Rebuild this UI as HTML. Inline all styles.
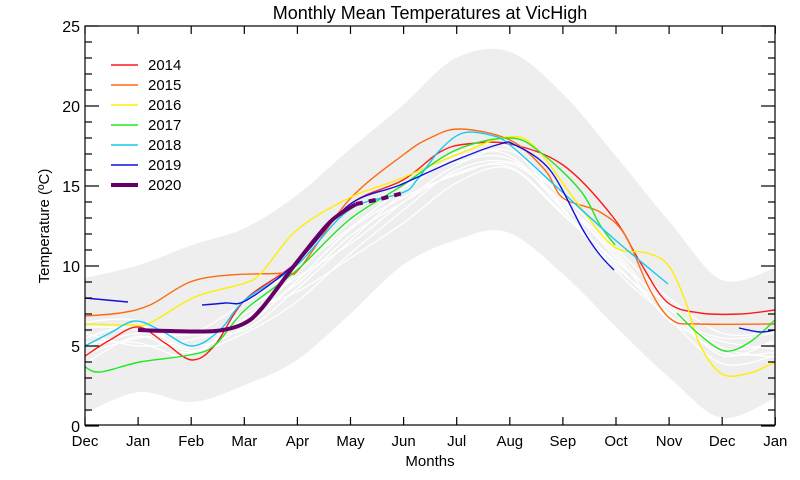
<!DOCTYPE html>
<html><head><meta charset="utf-8"><style>
html,body{margin:0;padding:0;background:#fff;}
svg{display:block;font-family:"Liberation Sans",sans-serif;}
</style></head><body>
<svg id="s" width="800" height="480" viewBox="0 0 800 480">
<rect width="800" height="480" fill="#fff"/>
<g id="band"></g>
<g id="white"></g>
<g id="series"></g>
<g id="axes" stroke="#000" stroke-width="1.2" fill="none"></g>
<text x="430" y="19" font-size="18" text-anchor="middle">Monthly Mean Temperatures at VicHigh</text>
<text x="430" y="466" font-size="15" text-anchor="middle">Months</text>
<text transform="translate(49,226) rotate(-90)" font-size="15" text-anchor="middle">Temperature (ºC)</text>
<g id="labels" font-size="16"></g>
<g id="legend" font-size="15"></g>
</svg>
<script>
const NS="http://www.w3.org/2000/svg";
function el(p,t,a,txt){const e=document.createElementNS(NS,t);for(const k in a)e.setAttribute(k,a[k]);if(txt!==undefined)e.textContent=String(txt);document.getElementById(p).appendChild(e);return e;}
function f(v){return (+v).toFixed(1);}
function cr(pts){pts=pts.map(p=>[+p[0],+p[1]]);let d="M"+f(pts[0][0])+","+f(pts[0][1]);for(let i=0;i<pts.length-1;i++){const p0=pts[Math.max(0,i-1)],p1=pts[i],p2=pts[i+1],p3=pts[Math.min(pts.length-1,i+2)];
const c1=[p1[0]+(p2[0]-p0[0])/6,p1[1]+(p2[1]-p0[1])/6],c2=[p2[0]-(p3[0]-p1[0])/6,p2[1]-(p3[1]-p1[1])/6];
d+=" C"+f(c1[0])+","+f(c1[1])+" "+f(c2[0])+","+f(c2[1])+" "+f(p2[0])+","+f(p2[1]);}return d;}
const X=m=>85+53.1*m, Y=t=>426-16*t;
const up=[[85,278],[139,265],[192,245],[245,228],[297,195],[349,150],[403,105],[456,58],[510,52],[564,95],[619,160],[672,225],[722,280],[775,268]];
const lo=[[85,413],[139,392],[192,402],[245,385],[297,360],[349,315],[403,265],[456,240],[507,232],[564,275],[619,330],[672,380],[722,418],[775,398]];
let d=cr(up);let lr=lo.slice().reverse();let d2=cr(lr);d+=" L"+lr[0][0]+","+lr[0][1]+d2.slice(d2.indexOf(" C"))+"Z";
el("band","path",{d:d,fill:"#eeeeee"});
const mean=[5.5,5.8,5.2,6.8,9.3,12,14.3,16.3,16.9,14,10.5,7.2,5.2,5.0];
const vars=[[0,0.5,-0.3,0.4,0,-0.6,-0.3,0,0.3,0.2,0,0.2,-0.8,0.4],[-1,-0.3,0.5,-0.8,-0.7,-0.4,0.3,0.5,0,-0.5,-0.4,-0.5,-1.3,-0.6],[0.7,0.2,-0.5,-1,-1.5,-1.2,-0.8,-0.3,-0.4,0.4,0.6,0.8,0.6,0.9],[-0.5,0,0.6,0.9,0.6,0.4,0.6,0.8,0.5,-0.4,-0.8,-0.3,0.3,0.8],[1,0.8,-0.2,-0.6,-0.2,0.3,0,-0.6,-0.5,0,0.4,-0.2,-0.6,-0.4],[-0.3,-0.6,-0.8,0.2,-0.9,-1.5,-1.6,-1.1,-0.8,-0.8,-0.2,0.4,-0.3,0.2],[0.3,-0.8,0.2,-0.3,0.3,0.8,0.9,0.2,-0.2,-0.2,0.2,-0.6,0.1,-0.2],[-1.6,-0.2,-0.6,-0.1,-0.4,-0.1,-0.3,-0.5,-0.7,-0.7,-0.6,0.1,-0.3,-0.7]];
vars.forEach(v=>{el("white","path",{d:cr(mean.map((t,i)=>[X(i),Y(t+v[i])])),fill:"none",stroke:"#fff","stroke-width":1.3});});
const S=[
["#ff1a1a",1.4,[[[85,356],[110,340],[138,327],[165,343],[192,360],[215,345],[245,300],[297,262],[349,205],[403,180],[440,152],[467,144],[510,144],[563,165],[613,217],[640,262],[667,302],[700,313],[740,314],[775,310]]]],
["#ff6a10",1.4,[[[85,316],[120,313],[150,305],[190,282],[230,275],[285,273],[300,268],[349,200],[403,155],[430,138],[460,129],[510,140],[545,170],[563,198],[600,212],[625,235],[650,290],[672,320],[700,324],[775,324]]]],
["#ffee00",1.4,[[[85,324],[130,325],[150,323],[195,297],[245,283],[262,272],[297,230],[349,198],[397,180],[456,155],[507,137],[535,147],[575,200],[613,246],[647,253],[668,265],[685,300],[700,345],[722,374],[750,373],[775,362]]]],
["#1ee81e",1.4,[[[85,367],[100,372],[140,362],[190,355],[215,345],[245,310],[297,270],[349,220],[403,185],[456,150],[510,138],[540,152],[580,190],[600,225],[615,245]],[[677,313],[700,335],[725,351],[750,342],[775,320]]]],
["#18c8f0",1.4,[[[85,346],[110,333],[135,321],[160,330],[192,346],[220,330],[245,300],[297,265],[349,210],[402,193],[417,180],[440,150],[463,133],[490,135],[510,145],[560,190],[613,238],[668,284]]]],
["#1010e0",1.4,[[[85,298],[128,302]],[[202,305],[225,303],[247,300],[297,262],[349,205],[400,185],[456,160],[500,144],[515,145],[550,170],[583,230],[600,255],[614,270]],[[739,328],[760,332],[775,330]]]]
];
S.forEach(s=>s[2].forEach(p=>el("series","path",{d:cr(p),fill:"none",stroke:s[0],"stroke-width":s[1]})));
el("series","path",{d:cr([[138,330],[170,331],[215,331],[243,324],[262,308],[297,262],[330,222],[356,204]]),fill:"none",stroke:"#660066","stroke-width":4});
el("series","path",{d:cr([[356,204],[380,199],[403,193]]),fill:"none",stroke:"#660066","stroke-width":4,"stroke-dasharray":"7,6"});
el("axes","rect",{x:85,y:26,width:690,height:399});
const mons=["Dec","Jan","Feb","Mar","Apr","May","Jun","Jul","Aug","Sep","Oct","Nov","Dec","Jan"];
for(let i=0;i<14;i++){const x=X(i);el("axes","line",{x1:x,y1:425,x2:x,y2:417});el("axes","line",{x1:x,y1:26,x2:x,y2:34});
el("labels","text",{x:x,y:446,"text-anchor":"middle","font-size":15},mons[i]);}
for(let t=0;t<=25;t++){const y=Y(t),L=t%5==0?14:7;el("axes","line",{x1:85,y1:y,x2:85+L,y2:y});el("axes","line",{x1:775,y1:y,x2:775-L,y2:y});
if(t%5==0)el("labels","text",{x:80,y:y+6,"text-anchor":"end"},t);}
const lg=[["2014","#ff1a1a",1.6],["2015","#ff6a10",1.6],["2016","#ffee00",1.6],["2017","#1ee81e",1.6],["2018","#18c8f0",1.6],["2019","#1010e0",1.6],["2020","#660066",4]];
lg.forEach((l,i)=>{const y=65+20*i;el("legend","line",{x1:111,y1:y,x2:138,y2:y,stroke:l[1],"stroke-width":l[2]});el("legend","text",{x:148,y:y+5},l[0]);});
</script>
</body></html>
